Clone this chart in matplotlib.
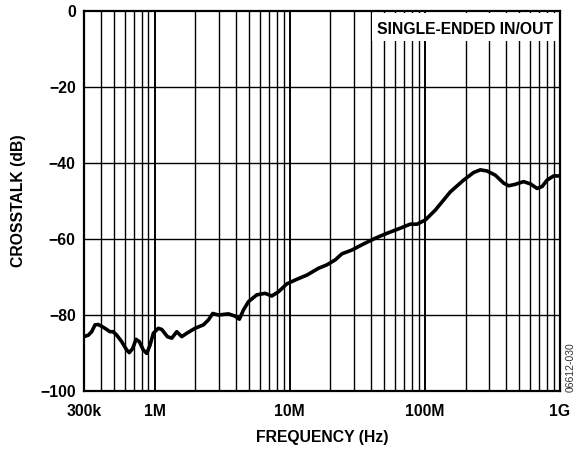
import matplotlib
matplotlib.use("Agg")
import matplotlib.pyplot as plt
from matplotlib.ticker import FixedLocator, NullFormatter
from matplotlib.patches import Rectangle

# Data: frequency in MHz, crosstalk in dB
freq_mhz = [0.300, 0.323, 0.342, 0.362, 0.383, 0.429, 0.467, 0.494, 0.524, 0.570,
            0.621, 0.649, 0.688, 0.728, 0.770, 0.824, 0.874, 0.925, 0.978, 1.064,
            1.129, 1.242, 1.338, 1.458, 1.587, 1.729, 1.991, 2.294, 2.499, 2.692,
            2.964, 3.515, 3.940, 4.236, 4.539, 4.943, 5.70, 6.57, 7.36, 8.24,
            9.52, 11.29, 13.38, 16.32, 18.83, 21.68, 24.32, 28.84, 35.16, 42.91,
            52.39, 62.13, 77.9, 87.4, 100.7, 119.4, 154.2, 193.5, 229.5, 257.2,
            288.4, 332.0, 383.0, 417.0, 468.0, 538.0, 604.0, 677.0, 737.0, 802.0,
            898.0, 1000.0]
crosstalk_db = [-85.7, -85.3, -84.4, -82.6, -82.5, -83.5, -84.4, -84.4, -85.3, -87.0,
                -89.2, -89.9, -88.8, -86.4, -87.0, -89.2, -90.1, -87.9, -84.8, -83.5,
                -83.8, -85.7, -86.1, -84.4, -85.7, -84.8, -83.5, -82.6, -81.3, -79.6,
                -80.0, -79.7, -80.3, -81.1, -78.7, -76.5, -74.7, -74.3, -75.0, -73.9,
                -71.8, -70.6, -69.5, -67.7, -66.8, -65.5, -63.9, -62.9, -61.3, -59.8,
                -58.5, -57.5, -56.1, -56.1, -55.0, -52.4, -47.6, -44.5, -42.5, -41.8,
                -42.1, -43.2, -45.3, -46.0, -45.6, -44.9, -45.5, -46.7, -46.2, -44.5,
                -43.4, -43.4]

x_tick_vals = [3e5, 1e6, 1e7, 1e8, 1e9]
x_tick_labels = ["300k", "1M", "10M", "100M", "1G"]
y_ticks = [0, -20, -40, -60, -80, -100]
y_tick_labels = ["0", "\u221220", "\u221240", "\u221260", "\u221280", "\u2212100"]

plt.rcParams['font.family'] = ['Liberation Sans', 'DejaVu Sans']

fig = plt.figure(figsize=(5.84, 4.51), dpi=100)
ax = fig.add_axes([84/584, 1 - 391/451, 476/584, 380/451])

freq_hz = [f * 1e6 for f in freq_mhz]
ax.set_xscale('log')
ax.set_xlim(3e5, 1e9)
ax.set_ylim(-100, 0)

# grid lines: all decade subdivisions
minor_pos = []
for dec in [1e5, 1e6, 1e7, 1e8]:
    for m in range(2, 10):
        v = m * dec
        if 3e5 < v < 1e9:
            minor_pos.append(v)
major_pos = [1e6, 1e7, 1e8]
for v in minor_pos:
    ax.axvline(v, color='black', lw=1.0, zorder=1)
for v in major_pos:
    ax.axvline(v, color='black', lw=1.4, zorder=1)
for v in [-20, -40, -60, -80]:
    ax.axhline(v, color='black', lw=1.0, zorder=1)

# label box
ax.add_patch(Rectangle((0.605, 0.921), 0.393, 0.0737, transform=ax.transAxes,
                       facecolor='white', edgecolor='none', zorder=2))
ax.text(0.9853, 0.9526, "SINGLE-ENDED IN/OUT", transform=ax.transAxes,
        ha='right', va='center', fontsize=11.3, fontweight='bold', zorder=3)

ax.plot(freq_hz, crosstalk_db, color='black', lw=2.6, solid_joinstyle='round',
        solid_capstyle='round', zorder=4)

ax.xaxis.set_major_locator(FixedLocator(x_tick_vals))
ax.set_xticklabels(x_tick_labels)
ax.xaxis.set_minor_formatter(NullFormatter())
ax.xaxis.set_minor_locator(FixedLocator([]))
ax.set_yticks(y_ticks)
ax.set_yticklabels(y_tick_labels)
ax.tick_params(axis='both', length=0, labelsize=11.3)
ax.tick_params(axis='x', pad=9)
ax.tick_params(axis='y', pad=6)
for lab in ax.get_xticklabels() + ax.get_yticklabels():
    lab.set_fontweight('bold')

for s in ax.spines.values():
    s.set_linewidth(1.6)
    s.set_color('black')
    s.set_zorder(5)

ax.set_xlabel("FREQUENCY (Hz)", fontsize=11.3, fontweight='bold', labelpad=8)
ax.set_ylabel("CROSSTALK (dB)", fontsize=11.3, fontweight='bold', labelpad=10)

fig.text(571/584, 1 - 392/451, "06612-030", rotation=90, ha='center', va='bottom',
         fontsize=7.5, color='#333333')

fig.savefig("out.png", dpi=100)
